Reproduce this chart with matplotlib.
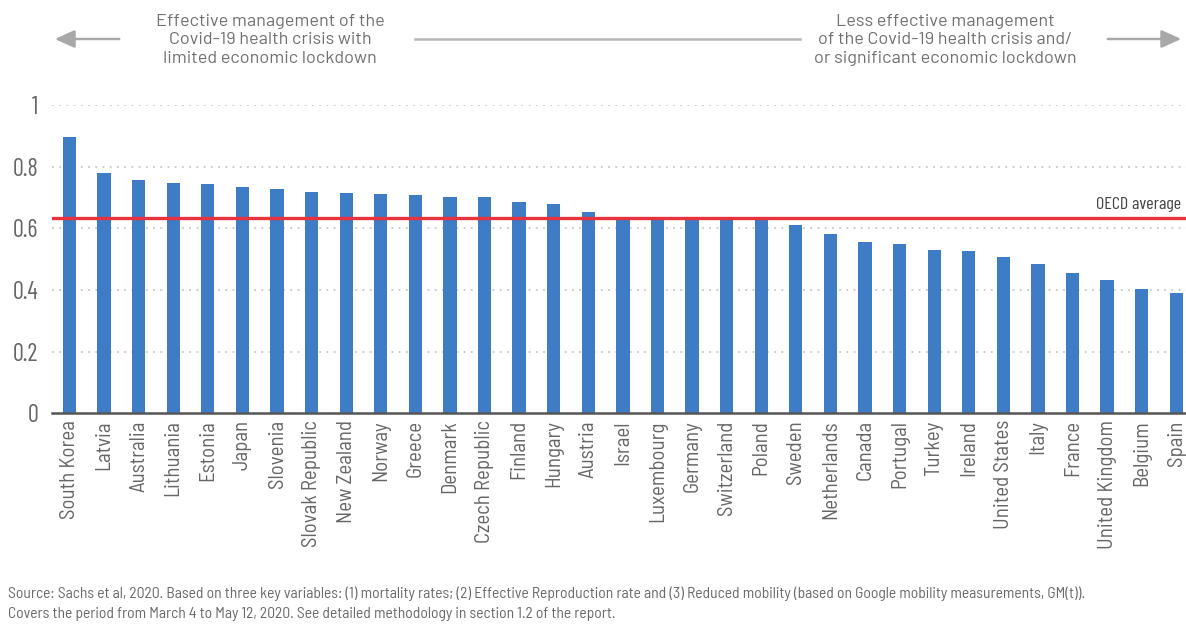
import matplotlib
matplotlib.use("Agg")
import matplotlib.pyplot as plt
from matplotlib.patches import FancyArrowPatch
import numpy as np

countries = [
    "South Korea", "Latvia", "Australia", "Lithuania", "Estonia", "Japan",
    "Slovenia", "Slovak Republic", "New Zealand", "Norway", "Greece",
    "Denmark", "Czech Republic", "Finland", "Hungary", "Austria", "Israel",
    "Luxembourg", "Germany", "Switzerland", "Poland", "Sweden",
    "Netherlands", "Canada", "Portugal", "Turkey", "Ireland",
    "United States", "Italy", "France", "United Kingdom", "Belgium", "Spain",
]
scores = [
    0.897, 0.778, 0.756, 0.746, 0.743, 0.735, 0.726, 0.718, 0.714, 0.711,
    0.708, 0.702, 0.700, 0.685, 0.678, 0.653, 0.634, 0.634, 0.632, 0.631,
    0.627, 0.610, 0.583, 0.554, 0.550, 0.531, 0.527, 0.508, 0.484, 0.456,
    0.432, 0.402, 0.389,
]
oecd_average = 0.632
y_ticks = [0, 0.2, 0.4, 0.6, 0.8, 1]
y_tick_labels = ["0", "0.2", "0.4", "0.6", "0.8", "1"]

left_note = "Effective management of the\nCovid-19 health crisis with\nlimited economic lockdown"
right_note = "Less effective management\nof the Covid-19 health crisis and/\nor significant economic lockdown"
source_note = (
    "Source: Sachs et al, 2020. Based on three key variables: (1) mortality rates; "
    "(2) Effective Reproduction rate and (3) Reduced mobility (based on Google "
    "mobility measurements, GM(t)).\n"
    "Covers the period from March 4 to May 12, 2020. See detailed methodology "
    "in section 1.2 of the report."
)

CONDENSED = ["Barlow Condensed", "DejaVu Sans"]
SEMI = ["Barlow Semi Condensed", "DejaVu Sans"]
REGULAR = ["Barlow", "Barlow Semi Condensed", "DejaVu Sans"]
BAR_COLOR = "#3e7cc6"
RED = "#e8323c"
TEXT_GRAY = "#666666"

fig = plt.figure(figsize=(11.86, 6.27), dpi=100)
ax = fig.add_axes([0.044, 0.341, 0.956, 0.4915])

x = np.arange(len(countries))
ax.bar(x, scores, width=0.385, color=BAR_COLOR, zorder=3)
ax.axhline(oecd_average, color=RED, linewidth=2.4, zorder=4)
ax.text(32.15, oecd_average + 0.022, "OECD average", ha="right", va="bottom",
        fontsize=13, color="#444444", family=CONDENSED)

# dotted grid
for yv in y_ticks[1:]:
    ax.axhline(yv, color="#c8c8c8", linewidth=1.3, linestyle=(0, (1, 3)), zorder=1)

ax.set_xlim(-0.5, 32.28)
ax.set_ylim(0, 1)
ax.set_yticks(y_ticks)
ax.set_yticklabels(y_tick_labels, fontsize=17.5, color=TEXT_GRAY, family=CONDENSED)
ax.set_xticks(x)
ax.set_xticklabels(countries, rotation=90, fontsize=15, color=TEXT_GRAY,
                   family=SEMI, va="top")
ax.tick_params(length=0, pad=5)
ax.tick_params(axis="y", pad=10)
for side in ["top", "right", "left"]:
    ax.spines[side].set_visible(False)
ax.spines["bottom"].set_color("#555555")
ax.spines["bottom"].set_linewidth(1.8)
ax.spines["bottom"].set_zorder(5)

# header notes and arrows
fig.text(270 / 1186, 1 - 40 / 627, left_note, ha="center", va="center",
         fontsize=13, color="#707070", linespacing=1.3, family=REGULAR)
fig.text(945 / 1186, 1 - 40 / 627, right_note, ha="center", va="center",
         fontsize=13, color="#707070", linespacing=1.3, family=REGULAR)
arrow_y = 1 - 39 / 627
arrow_style = dict(arrowstyle="-|>,head_length=1.0,head_width=0.45",
                   color="#a8a8a8", linewidth=1.8)
fig.add_artist(FancyArrowPatch(
    (122 / 1186, arrow_y), (52 / 1186, arrow_y), transform=fig.transFigure,
    mutation_scale=12, **arrow_style))
fig.add_artist(FancyArrowPatch(
    (1105 / 1186, arrow_y), (1184 / 1186, arrow_y), transform=fig.transFigure,
    mutation_scale=12, **arrow_style))
fig.add_artist(plt.Line2D([415 / 1186, 800 / 1186], [arrow_y, arrow_y],
                          transform=fig.transFigure, color="#b8b8b8", linewidth=1.8))

fig.text(8 / 1186, 1 - 604 / 627, source_note, ha="left", va="center",
         fontsize=11.2, color="#6a6a6a", family=SEMI, linespacing=1.55)

fig.savefig("out.png", dpi=100)
